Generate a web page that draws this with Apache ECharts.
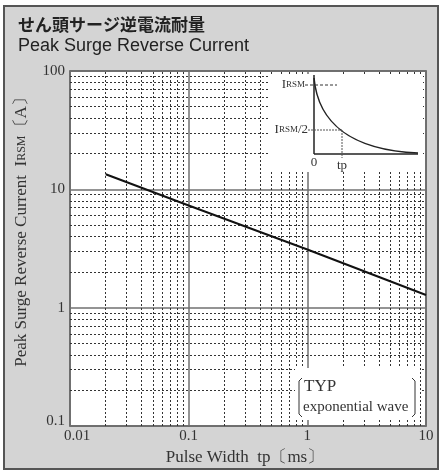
<!DOCTYPE html>
<html>
<head>
<meta charset="utf-8">
<script src="https://cdn.jsdelivr.net/npm/echarts@6/dist/echarts.min.js"></script>
<style>
html,body{margin:0;padding:0;background:#fff;}
#c{width:441px;height:472px;}
</style>
</head>
<body>
<div id="c"></div>
<script>
// ---- data ----
const pulseWidth = [0.02, 0.1, 1, 10];          // tp [ms]
const surgeCurrent = [13.4, 7.3, 3.1, 1.28];    // IRSM [A]
const xMinorGrid = [0.02,0.03,0.04,0.05,0.06,0.07,0.08,0.09,0.2,0.3,0.4,0.5,0.6,0.7,0.8,0.9,2,3,4,5,6,7,8,9];
const yMinorGrid = [0.2,0.3,0.4,0.5,0.6,0.7,0.8,0.9,2,3,4,5,6,7,8,9,20,30,40,50,60,70,80,90];
const xTickLabels = {0.01:'0.01', 0.1:'0.1', 1:'1', 10:'10'};
const yTickLabels = {0.1:'0.1', 1:'1', 10:'10', 100:'100'};

const SERIF = '"Liberation Serif","DejaVu Serif",serif';
const chart = echarts.init(document.getElementById('c'), null, {renderer:'canvas'});

const seriesData = pulseWidth.map((x,i)=>[x, surgeCurrent[i]]);

function lookup(map, v){ for (const k in map) { if (Math.abs(Math.log10(v) - Math.log10(+k)) < 1e-6) return map[k]; } return ''; }

const option = {
  backgroundColor: '#fff',
  animation: false,
  grid: {left:70, top:71, right:15, bottom:46, show:true, backgroundColor:'#fff', borderColor:'#444', borderWidth:1.5},
  xAxis: {
    type:'log', logBase:10, min:0.01, max:10,
    axisLine:{show:false}, axisTick:{show:false},
    axisLabel:{
      formatter: v => { const t = lookup(xTickLabels, v); return t === '0.01' ? '{first|' + t + '}' : t; },
      rich:{first:{fontFamily:SERIF, fontSize:15, color:'#333', padding:[0,0,0,14]}},
      fontFamily:SERIF, fontSize:15, color:'#333', margin:3
    },
    splitLine:{show:true, lineStyle:{color:'#707070', width:1.5}}
  },
  yAxis: {
    type:'log', logBase:10, min:0.1, max:100,
    axisLine:{show:false}, axisTick:{show:false},
    axisLabel:{
      formatter: v => { const t = lookup(yTickLabels, v); return t === '0.1' ? '{low|' + t + '}' : t; },
      rich:{low:{fontFamily:SERIF, fontSize:15, color:'#333', padding:[0,0,9,0]}},
      fontFamily:SERIF, fontSize:15, color:'#333', margin:5
    },
    splitLine:{show:true, lineStyle:{color:'#707070', width:1.5}}
  },
  series: [
    {
      type:'line', data:[], z:1, silent:true,
      markLine:{
        z:1, silent:true, symbol:['none','none'], label:{show:false},
        lineStyle:{type:[2,2], color:'#333', width:1},
        emphasis:{disabled:true},
        data: xMinorGrid.map(v=>({xAxis:v})).concat(yMinorGrid.map(v=>({yAxis:v})))
      }
    },
    {
      type:'line', data: seriesData, z:5, symbol:'none',
      lineStyle:{color:'#111', width:2}
    }
  ],
  graphic: [
    {type:'rect', z:-10, shape:{x:4,y:6,width:434,height:463}, style:{fill:'#d4d4d4', stroke:'#555', lineWidth:2}},
    {type:'text', z:10, x:18, y:25, style:{text:'せん頭サージ逆電流耐量', font:'bold 17px "Noto Sans CJK JP"', fill:'#222', verticalAlign:'middle'}},
    {type:'text', z:10, x:18, y:46, style:{text:'Peak Surge Reverse Current', font:'18px "Liberation Sans", Arial, sans-serif', fill:'#222', verticalAlign:'middle'}},
    {type:'text', z:10, x:22, y:228, rotation:Math.PI/2, style:{
      text:'{a|Peak Surge Reverse Current  I}{s|RSM}{a|〔A〕}', align:'center', verticalAlign:'middle',
      rich:{a:{fontFamily:SERIF, fontSize:17, fill:'#333'}, s:{fontFamily:SERIF, fontSize:12, fill:'#333'}}
    }},
    {type:'text', z:10, x:245, y:458, style:{text:'Pulse Width  tp〔ms〕', font:'17px '+SERIF, fill:'#333', align:'center', verticalAlign:'middle'}},
    // inset diagram
    {type:'rect', z:3, shape:{x:268,y:74,width:155,height:98}, style:{fill:'#fff'}},
    {type:'line', z:4, shape:{x1:314,y1:75,x2:314,y2:154}, style:{stroke:'#222', lineWidth:1.5}},
    {type:'line', z:4, shape:{x1:314,y1:154,x2:418,y2:154}, style:{stroke:'#222', lineWidth:1.5}},
    {type:'bezierCurve', z:4, shape:{x1:314,y1:78,cpx1:318,cpy1:122,cpx2:350,cpy2:150,x2:418,y2:153}, style:{stroke:'#222', lineWidth:1.5, fill:null}},
    {type:'line', z:4, shape:{x1:305,y1:85,x2:337,y2:85}, style:{stroke:'#333', lineWidth:1, lineDash:[3,2]}},
    {type:'line', z:4, shape:{x1:308,y1:130,x2:342,y2:130}, style:{stroke:'#555', lineWidth:1, lineDash:[2,1]}},
    {type:'line', z:4, shape:{x1:342,y1:130,x2:342,y2:158}, style:{stroke:'#555', lineWidth:1, lineDash:[2,1]}},
    {type:'text', z:4, x:305, y:85, style:{text:'{a|I}{s|RSM}', align:'right', verticalAlign:'middle',
      rich:{a:{fontFamily:SERIF, fontSize:13, fill:'#333'}, s:{fontFamily:SERIF, fontSize:9, fill:'#333'}}}},
    {type:'text', z:4, x:308, y:130, style:{text:'{a|I}{s|RSM}{a|/2}', align:'right', verticalAlign:'middle',
      rich:{a:{fontFamily:SERIF, fontSize:13, fill:'#333'}, s:{fontFamily:SERIF, fontSize:9, fill:'#333'}}}},
    {type:'text', z:4, x:314, y:163, style:{text:'0', font:'13px '+SERIF, fill:'#333', align:'center', verticalAlign:'middle'}},
    {type:'text', z:4, x:342, y:166, style:{text:'tp', font:'13px '+SERIF, fill:'#333', align:'center', verticalAlign:'middle'}},
    // TYP box
    {type:'rect', z:3, shape:{x:295,y:368,width:125,height:52}, style:{fill:'#fff'}},
    {type:'polyline', z:4, shape:{points:[[302,378],[299,381],[299,414],[302,417]]}, style:{stroke:'#333', lineWidth:1, fill:null}},
    {type:'polyline', z:4, shape:{points:[[412,378],[415,381],[415,414],[412,417]]}, style:{stroke:'#333', lineWidth:1, fill:null}},
    {type:'text', z:4, x:304, y:387, style:{text:'TYP', font:'17px '+SERIF, fill:'#333', verticalAlign:'middle'}},
    {type:'text', z:4, x:303, y:407, style:{text:'exponential wave', font:'15px '+SERIF, fill:'#333', verticalAlign:'middle'}}
  ]
};
chart.setOption(option);
</script>
</body>
</html>
